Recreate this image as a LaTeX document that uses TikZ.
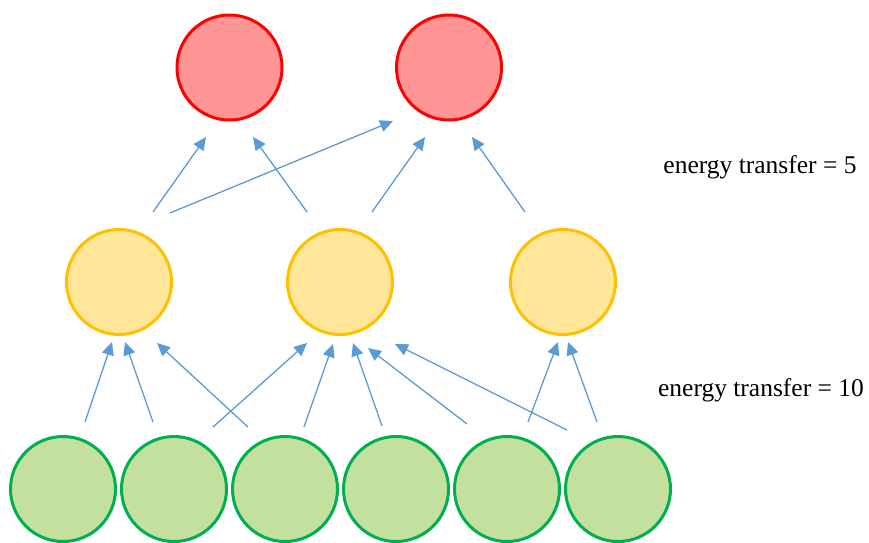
\documentclass[tikz,border=0pt]{standalone}
\usepackage{fontspec}
\setmainfont{Liberation Serif}
\usetikzlibrary{arrows.meta}
\definecolor{redline}{HTML}{FF0000}
\definecolor{redfill}{HTML}{FF9595}
\definecolor{yelline}{HTML}{FFC000}
\definecolor{yelfill}{HTML}{FFE699}
\definecolor{grnline}{HTML}{00B050}
\definecolor{grnfill}{HTML}{C3E09E}
\definecolor{arrowblue}{HTML}{5B9BD5}
\tikzset{
  ball/.style={circle, inner sep=0pt, minimum size=105pt, line width=3pt},
  redball/.style={ball, draw=redline, fill=redfill},
  yelball/.style={ball, draw=yelline, fill=yelfill},
  grnball/.style={ball, draw=grnline, fill=grnfill},
  flow/.style={draw=arrowblue, line width=1.3pt, -{Triangle[length=13pt,width=12pt]}},
  lbl/.style={font=\fontsize{25.5}{30}\selectfont, anchor=base, inner sep=0pt}
}
\begin{document}
\begin{tikzpicture}[x=1pt,y=-1pt]
\useasboundingbox (0,0) rectangle (869,542);
% top
\node[redball] (r1) at (229.5,67.5) {};
\node[redball] (r2) at (449,67.5) {};
% middle
\node[yelball] (y1) at (119,282) {};
\node[yelball] (y2) at (340,282) {};
\node[yelball] (y3) at (563,282) {};
% bottom
\node[grnball] (g1) at (63,489) {};
\node[grnball] (g2) at (174,489) {};
\node[grnball] (g3) at (285,489) {};
\node[grnball] (g4) at (396,489) {};
\node[grnball] (g5) at (507,489) {};
\node[grnball] (g6) at (618,489) {};
% labels
\node[lbl] (t5) at (760,173) {energy transfer = 5};
\node[lbl] (t10) at (761,396) {energy transfer = 10};
% arrow end points, bottom -> middle
\coordinate (a1s) at (85,422);  \coordinate (a1e) at (112,342);
\coordinate (a2s) at (153,422); \coordinate (a2e) at (125,342);
\coordinate (a3s) at (248,427); \coordinate (a3e) at (157,343);
\coordinate (a4s) at (213,427); \coordinate (a4e) at (307,343);
\coordinate (a5s) at (304,427); \coordinate (a5e) at (333,344);
\coordinate (a6s) at (382,426); \coordinate (a6e) at (353,343);
\coordinate (a7s) at (467,424); \coordinate (a7e) at (368,348);
\coordinate (a8s) at (567,430); \coordinate (a8e) at (395,344);
\coordinate (a9s) at (528,422); \coordinate (a9e) at (558,342);
\coordinate (a10s) at (597,422); \coordinate (a10e) at (568,342);
% middle -> top
\coordinate (b1s) at (153,212); \coordinate (b1e) at (206,137);
\coordinate (b2s) at (307,212); \coordinate (b2e) at (253,137);
\coordinate (b3s) at (170,213); \coordinate (b3e) at (393,121);
\coordinate (b4s) at (372,212); \coordinate (b4e) at (425,137);
\coordinate (b5s) at (525,212); \coordinate (b5e) at (472,137);
\foreach \k in {a1,a2,a3,a4,a5,a6,a7,a8,a9,a10,b1,b2,b3,b4,b5}{
  \draw[flow] (\k s) -- (\k e);
}
\end{tikzpicture}
\end{document}
